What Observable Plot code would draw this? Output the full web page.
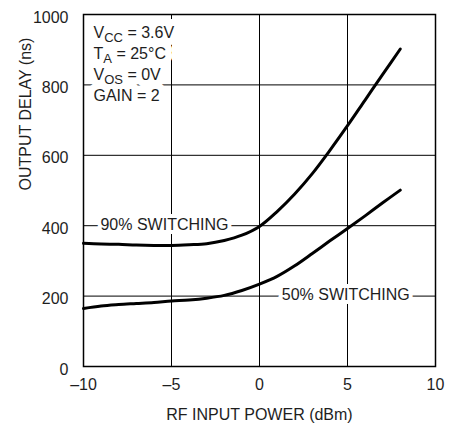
<!DOCTYPE html>
<html><head><meta charset="utf-8">
<script src="https://cdn.jsdelivr.net/npm/d3@7"></script>
<script src="https://cdn.jsdelivr.net/npm/@observablehq/plot@0.6"></script>
<style>
body{margin:0;background:#fff;}
#chart svg{font-family:"Liberation Sans",Arial,sans-serif;}
</style></head><body><div id="chart"></div>
<script>
// Data
const inputPower = [-10,-9,-8,-7,-6,-5,-4,-3,-2,-1,0,1,2,3,4,5,6,7,8];
const delay90 = [350,348,347,345,344,344,346,349,358,373,398,440,490,548,614,684,757,830,902];
const delay50 = [165,172,176,179,182,186,189,194,202,216,234,256,286,321,357,392,428,465,501];
const xTicks = [-10,-5,0,5,10];
const yTicks = [0,200,400,600,800,1000];
const gridX = [-5,0,5];
const gridY = [200,400,600,800];
const seriesLabels = ["90% SWITCHING","50% SWITCHING"];
const labelPower = [-5.4, 4.9];
const labelDelay = [400, 200];
const conditions = [["V","CC"," = 3.6V"],["T","A"," = 25°C"],["V","OS"," = 0V"],["GAIN = 2","",""]];
const xTitle = "RF INPUT POWER (dBm)";
const yTitle = "OUTPUT DELAY (ns)";

const rows90 = inputPower.map((x,i)=>({x, y: delay90[i]}));
const rows50 = inputPower.map((x,i)=>({x, y: delay50[i]}));
const labels = seriesLabels.map((t,i)=>({t, x: labelPower[i], y: labelDelay[i]}));
const ink = "#1e1e1e";
const fmtX = d => d < 0 ? "\u2013" + Math.abs(d) : String(d);

const condMarks = (halo) => conditions.map((c, i) => Plot.text([c.join("")], {
  frameAnchor: "top-left", dx: 10, dy: 23 + i * 21.3, lineAnchor: "bottom", text: d => d, fontSize: 16,
  ...(halo ? {fill: "#fff", stroke: "#fff", strokeWidth: 14} : {fill: ink})
}));

const chart = Plot.plot({
  width: 457, height: 425,
  marginLeft: 83, marginRight: 22, marginTop: 14, marginBottom: 59,
  style: {fontSize: "16px", fontFamily: '"Liberation Sans", Arial, sans-serif', color: ink, background: "#fff"},
  x: {domain: [-10, 10]},
  y: {domain: [0, 1000]},
  marks: [
    Plot.ruleX(gridX, {stroke: "#000", strokeWidth: 1}),
    Plot.ruleY(gridY, {stroke: "#000", strokeWidth: 1}),
    Plot.text(labels, {x: "x", y: "y", text: "t", fill: ink, stroke: "#fff", strokeWidth: 8, fontSize: 16, dy: -1}),
    ...condMarks(true),
    ...condMarks(false),
    Plot.frame({stroke: "#000", strokeWidth: 1.5}),
    Plot.line(rows90, {x: "x", y: "y", curve: "catmull-rom", stroke: "#000", strokeWidth: 3}),
    Plot.line(rows50, {x: "x", y: "y", curve: "catmull-rom", stroke: "#000", strokeWidth: 3}),
    Plot.axisX({ticks: xTicks, tickSize: 0, tickPadding: 12, tickFormat: fmtX, label: null, fontSize: 16}),
    Plot.axisY({ticks: yTicks, tickSize: 0, tickPadding: 15, tickFormat: d => String(d), label: null, dy: 3, fontSize: 16}),
    Plot.text([xTitle], {frameAnchor: "bottom", dy: 53, lineAnchor: "bottom", text: d => d, fill: ink, fontSize: 16}),
    Plot.text([yTitle], {frameAnchor: "left", dx: -58, rotate: -90, lineAnchor: "middle", text: d => d, fill: ink, fontSize: 16})
  ]
});

// subscripts for the condition block
const ns = "http://www.w3.org/2000/svg";
const allText = Array.from(chart.querySelectorAll("text"));
conditions.forEach((c) => {
  if (!c[1]) return;
  const full = c.join("");
  allText.filter(el => el.textContent === full).forEach(t => {
    t.textContent = "";
    const a = document.createElementNS(ns, "tspan"); a.textContent = c[0]; t.appendChild(a);
    const b = document.createElementNS(ns, "tspan"); b.textContent = c[1];
    b.setAttribute("dy", "4"); b.setAttribute("font-size", "13"); t.appendChild(b);
    const r = document.createElementNS(ns, "tspan"); r.textContent = c[2];
    r.setAttribute("dy", "-4"); t.appendChild(r);
  });
});

document.getElementById("chart").appendChild(chart);
</script></body></html>
